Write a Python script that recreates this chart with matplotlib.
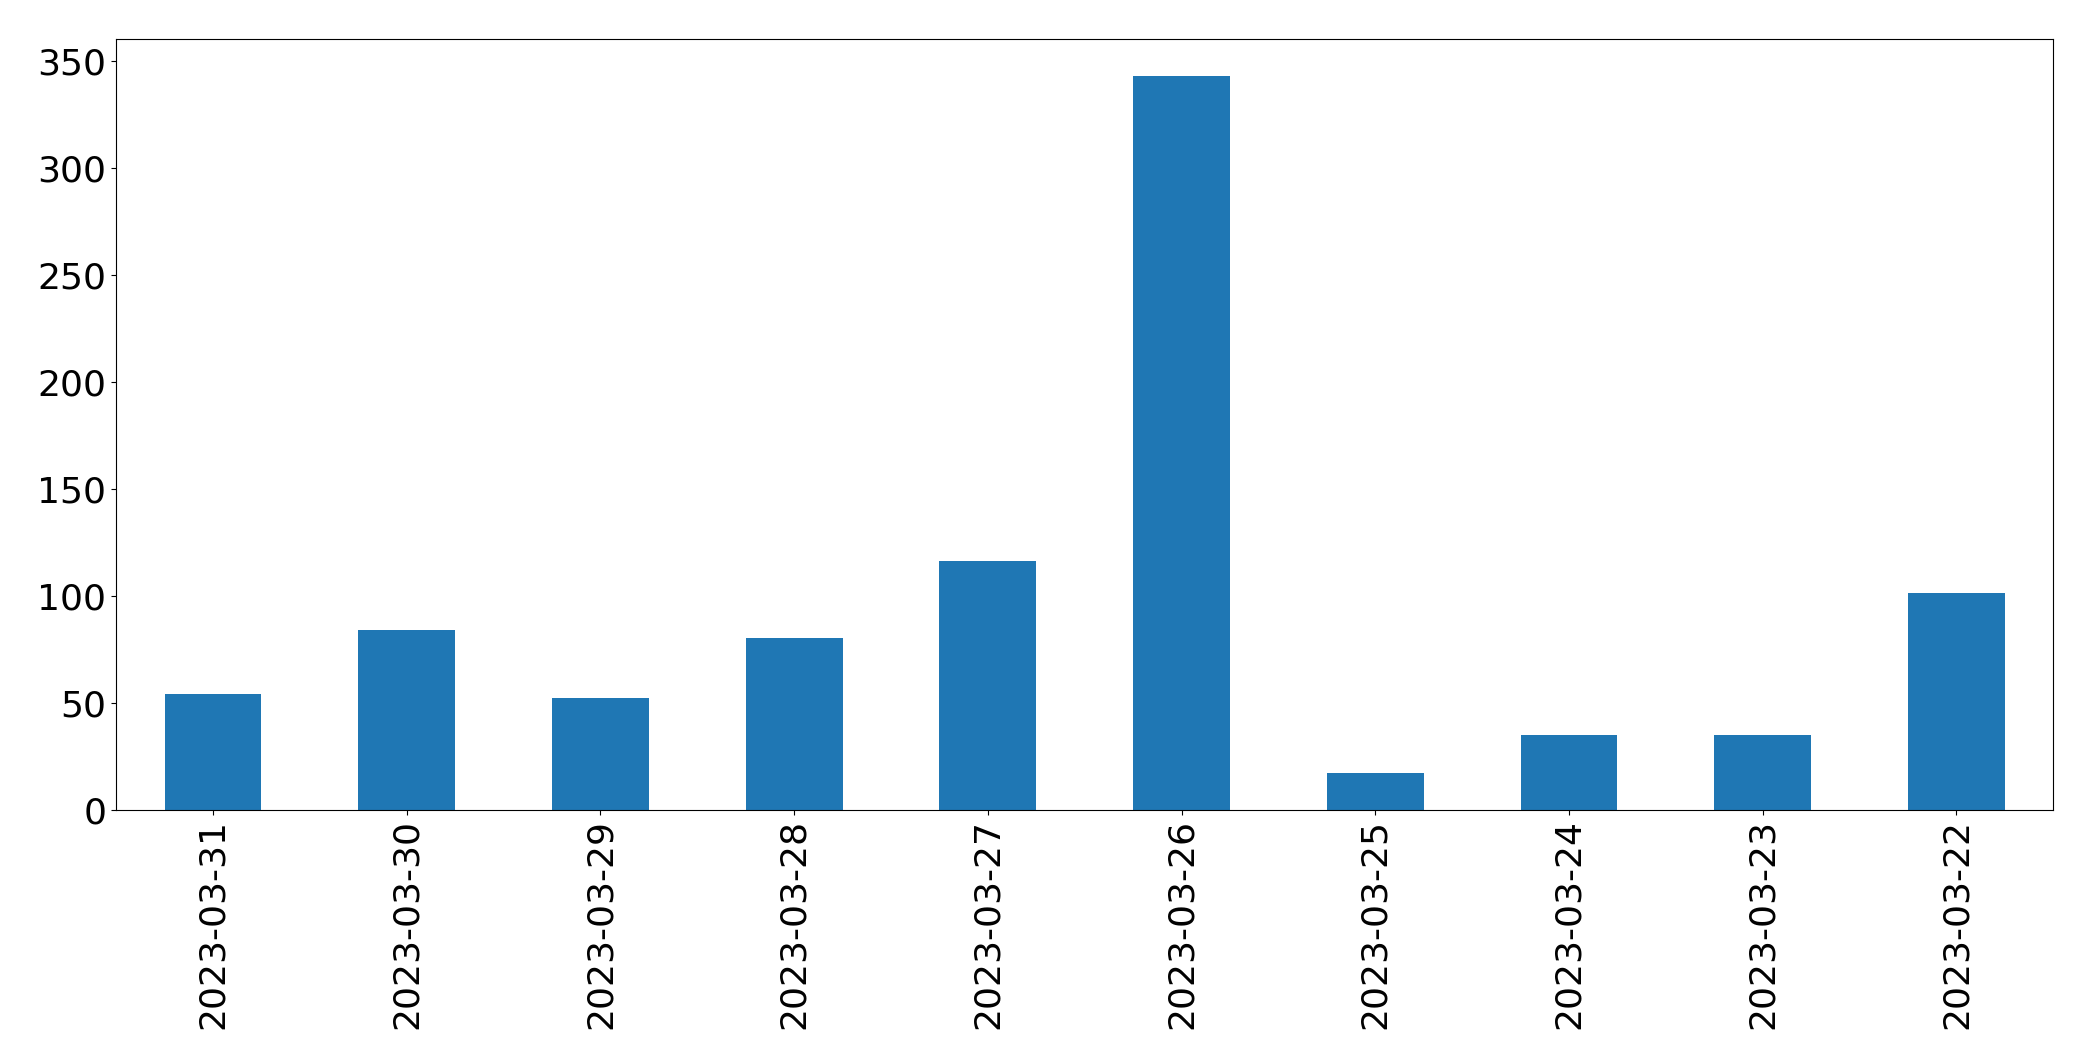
from pandas import Series
import matplotlib.pyplot as plt

dates = ['2023-03-31', '2023-03-30', '2023-03-29', '2023-03-28', '2023-03-27',
         '2023-03-26', '2023-03-25', '2023-03-24', '2023-03-23', '2023-03-22']
counts = [54, 84, 52, 80, 116, 343, 17, 35, 35, 101]

daily = Series(data=counts, index=dates)

fig, ax = plt.subplots(figsize=(20.93, 10.61), dpi=100)
daily.plot(kind='bar', ax=ax, color='#1f77b4', width=0.5)

ax.tick_params(axis='both', labelsize=26)
ax.set_ylim(0, 360)
plt.subplots_adjust(left=0.0555, right=0.981, top=0.963, bottom=0.237)

plt.savefig('out.png', dpi=100)
